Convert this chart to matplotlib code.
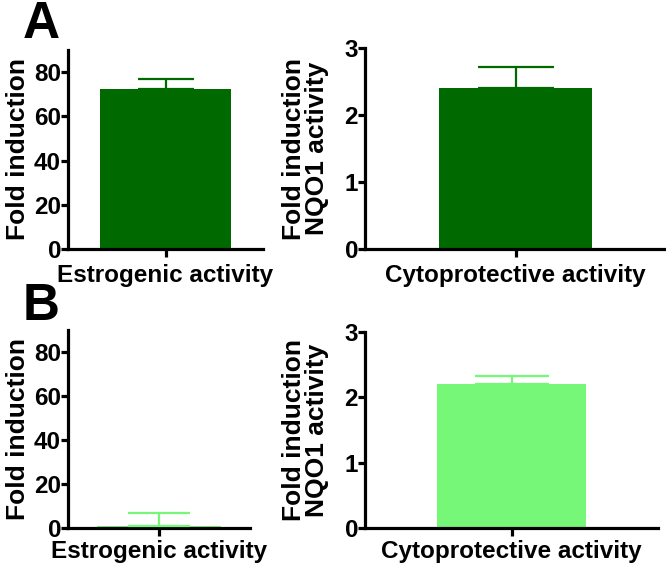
import matplotlib
matplotlib.use("Agg")
import matplotlib.pyplot as plt

plt.rcParams['font.family'] = ['Liberation Sans', 'DejaVu Sans']
plt.rcParams['font.weight'] = 'bold'

# Data
panel_letters = ["A", "B"]
left_category = ["Estrogenic activity"]
right_category = ["Cytoprotective activity"]
A_estrogenic = [72.3]
A_estrogenic_err = [4.5]
A_cyto = [2.41]
A_cyto_err = [0.30]
B_estrogenic = [1.0]
B_estrogenic_err = [6.0]
B_cyto = [2.20]
B_cyto_err = [0.13]
left_yticks = [0, 20, 40, 60, 80]
right_yticks = [0, 1, 2, 3]

dark_green = "#006A00"
light_green = "#77F777"

W, H = 666, 565
fig = plt.figure(figsize=(W / 100, H / 100), dpi=100)

def ax_at(x0, x1, ytop, ybot):
    return fig.add_axes([x0 / W, (H - ybot) / H, (x1 - x0) / W, (ybot - ytop) / H])

def style(ax, xl, ylim, yticks, xlabel, ylabel, color, vals, errs, cap, xpad):
    ax.bar([0], vals, width=1.0, color=color, edgecolor='none', zorder=2)
    ax.errorbar([0], vals, yerr=[[0], errs], fmt='none', ecolor=color,
                elinewidth=1.6, capsize=cap, capthick=1.6, zorder=3)
    ax.set_xlim(-xl, xl)
    ax.set_ylim(*ylim)
    ax.set_yticks(yticks)
    ax.set_xticks([0])
    ax.set_xticklabels([xlabel], fontsize=19.3, fontweight='bold')
    for s in ['top', 'right']:
        ax.spines[s].set_visible(False)
    for s in ['left', 'bottom']:
        ax.spines[s].set_linewidth(2.3)
    ax.tick_params(axis='both', width=2.3, length=5, direction='out',
                   labelsize=17.5, pad=0)
    ax.tick_params(axis='x', length=6, pad=xpad)
    for t in ax.get_yticklabels():
        t.set_fontweight('bold')
    ax.set_ylabel(ylabel, fontsize=19, fontweight='bold', linespacing=0.95)

ax1 = ax_at(68, 263, 50, 249)
style(ax1, 0.74, (0, 90), left_yticks, left_category[0], "Fold induction",
      dark_green, A_estrogenic, A_estrogenic_err, 20.5, 5)
ax1.yaxis.set_label_coords(-38 / 195, 0.5)

ax2 = ax_at(365, 666, 48, 249)
style(ax2, 0.985, (0, 3), right_yticks, right_category[0],
      "Fold induction\nNQO1 activity", dark_green, A_cyto, A_cyto_err, 27.7, 5)
ax2.yaxis.set_label_coords(-36 / 301, 0.5)

ax3 = ax_at(68, 250, 330, 528)
style(ax3, 0.734, (0, 90), left_yticks, left_category[0], "Fold induction",
      light_green, B_estrogenic, B_estrogenic_err, 22.3, 2.5)
ax3.yaxis.set_label_coords(-38 / 182, 0.5)

ax4 = ax_at(365, 658, 332, 528)
style(ax4, 0.977, (0, 3), right_yticks, right_category[0],
      "Fold induction\nNQO1 activity", light_green, B_cyto, B_cyto_err, 26.6, 2.5)
ax4.yaxis.set_label_coords(-36 / 293, 0.5)

fig.text(23 / W, 1 - 0 / H, panel_letters[0], fontsize=37, fontweight='bold',
         ha='left', va='top')
fig.text(23 / W, 1 - 282 / H, panel_letters[1], fontsize=37, fontweight='bold',
         ha='left', va='top')

fig.savefig("out.png", dpi=100)
